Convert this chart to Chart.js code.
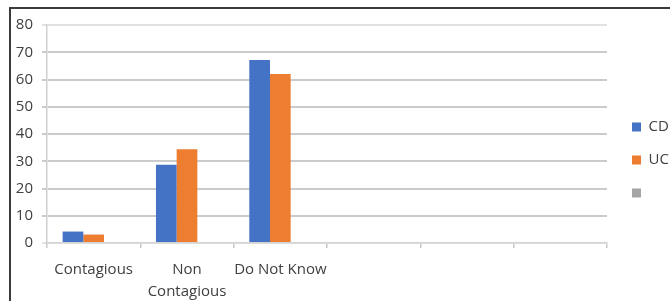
<!DOCTYPE html>
<html>
<head>
<meta charset="utf-8">
<script src="https://cdn.jsdelivr.net/npm/chart.js@4.4.0/dist/chart.umd.min.js"></script>
<style>
  html, body { margin: 0; padding: 0; background: #fff; }
  #wrap { position: relative; width: 670px; height: 301px; overflow: hidden; }
  #frame { position: absolute; left: 9px; top: 7px; width: 700px; height: 320px;
           border-left: 2px solid #3a3a3a; border-top: 2px solid #3a3a3a; pointer-events: none; }
  canvas { position: absolute; left: 0; top: 0; }
</style>
</head>
<body>
<div id="wrap">
  <canvas id="chart" width="670" height="301"></canvas>
  <div id="frame"></div>
</div>
<script>
// categories (last three are empty slots, as in the original sheet)
const categories = ['Contagious', ['Non', 'Contagious'], 'Do Not Know', '', '', ''];
const cdValues = [4.2, 28.7, 67.2, null, null, null];
const ucValues = [3.1, 34.4, 62.0, null, null, null];
const blankValues = [null, null, null, null, null, null];
const yTicks = [0, 10, 20, 30, 40, 50, 60, 70, 80];

const font = { family: '"Open Sans", sans-serif', size: 15 };

// nudge the legend a little away from the plot, like the Excel original
const legendShift = {
  id: 'legendShift',
  afterLayout(chart) {
    chart.legend.left += 7;
    chart.legend.right += 7;
    chart.legend.top -= 3;
    chart.legend.bottom -= 3;
  }
};

new Chart(document.getElementById('chart'), {
  type: 'bar',
  data: {
    labels: categories,
    datasets: [
      { label: 'CD', data: cdValues, backgroundColor: '#4472C4' },
      { label: 'UC', data: ucValues, backgroundColor: '#ED7D31' },
      { label: '', data: blankValues, backgroundColor: '#A5A5A5' }
    ]
  },
  plugins: [legendShift],
  options: {
    responsive: false,
    animation: false,
    layout: { padding: { left: 14, top: 25, right: 0, bottom: 0 } },
    datasets: { bar: { barPercentage: 1, categoryPercentage: 0.665 } },
    scales: {
      x: {
        afterFit: (axis) => { axis.height = 58; },
        grid: { drawOnChartArea: false, drawTicks: true, tickLength: 5, color: '#c8c8c8', lineWidth: 1.5 },
        border: { display: true, color: '#d4d4d4', width: 1.5 },
        ticks: { color: '#404040', font: { ...font, lineHeight: 1.45 }, padding: 11, maxRotation: 0, autoSkip: false }
      },
      y: {
        min: 0, max: 80,
        afterBuildTicks: (axis) => { axis.ticks = yTicks.map(v => ({ value: v })); },
        afterFit: (axis) => { axis.width = 33; },
        grid: {
          drawTicks: true,
          tickLength: 5,
          lineWidth: 2,
          color: (c) => (c.tick && (c.tick.value === 80 || c.tick.value === 0)) ? '#e2e2e2' : '#cbcbcb'
        },
        border: { display: true, color: '#d0d0d0', width: 1.5 },
        ticks: { color: '#404040', font: font, padding: 9 }
      }
    },
    plugins: {
      legend: {
        position: 'right',
        maxWidth: 63,
        labels: { boxWidth: 9, boxHeight: 9, padding: 18, color: '#404040', font: font }
      },
      tooltip: { enabled: false }
    }
  }
});
</script>
</body>
</html>
